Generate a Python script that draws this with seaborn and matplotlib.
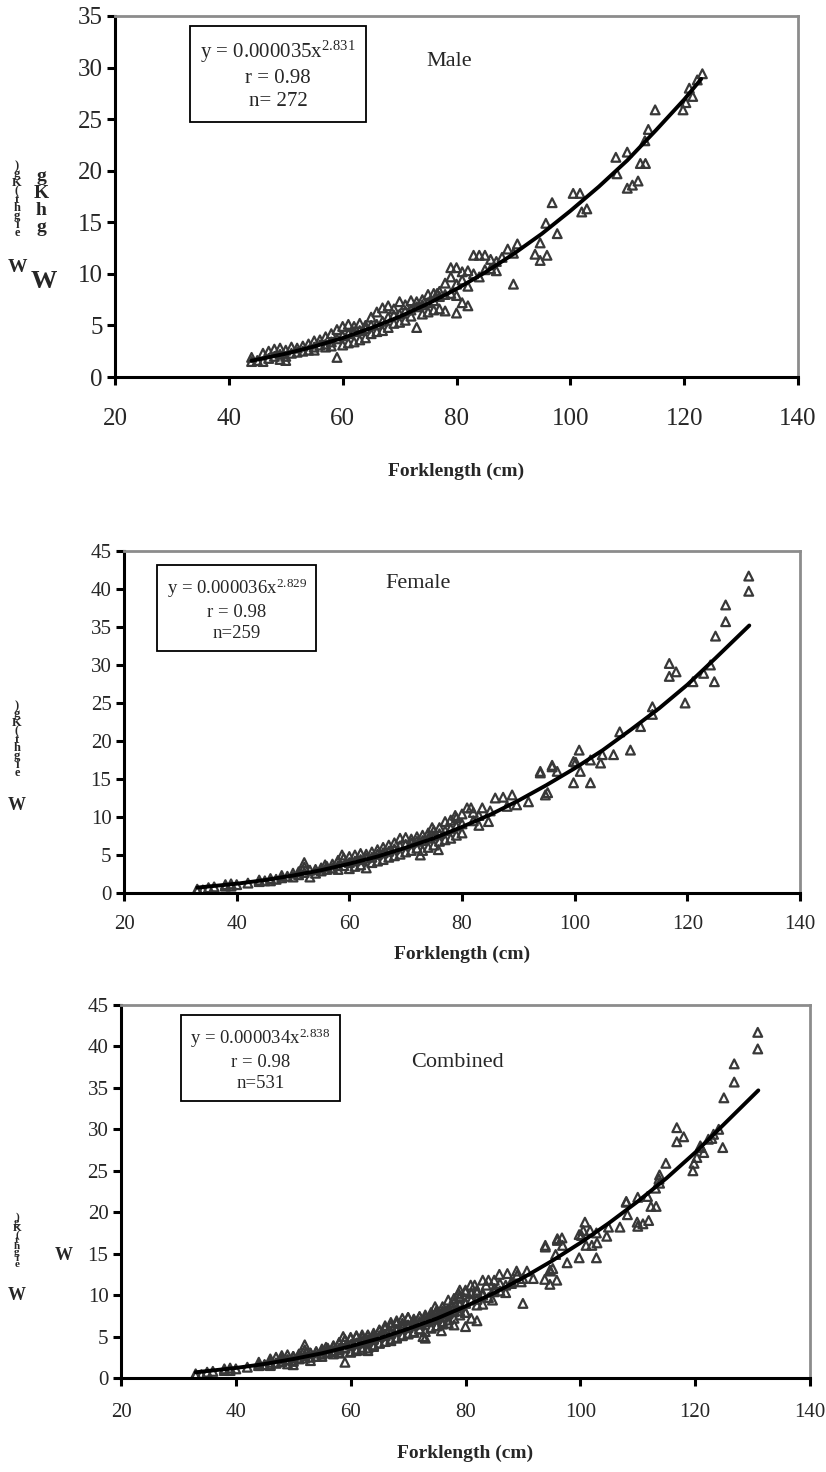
import matplotlib
matplotlib.use("Agg")
import matplotlib.pyplot as plt
import seaborn as sns
import pandas as pd

# %%
# Male: fork length (cm) and weight (kg)
male_fl = [44, 44, 45, 46, 46, 47, 47, 48, 48, 49, 49, 49, 50, 50, 50, 51, 51, 52, 52,
           53, 53, 54, 54, 55, 55, 55, 56, 56, 57, 57, 57, 58, 58, 58, 59, 59, 59,
           60, 60, 60, 61, 61, 61, 62, 62, 62, 63, 63, 63, 64, 64, 64, 65, 65, 65,
           66, 66, 66, 67, 67, 67, 68, 68, 68, 69, 69, 69, 70, 70, 70, 71, 71, 71,
           72, 72, 72, 73, 73, 73, 74, 74, 74, 75, 75, 75, 76, 76, 76, 76.6, 77, 77, 77,
           78, 78, 78, 79, 79, 79, 80, 80, 80, 80, 81, 81, 81, 82, 82, 82, 83, 83,
           84, 84, 85, 85, 86, 86, 87, 87, 88, 89, 90, 90, 90.7, 93.8, 94.7, 94.7,
           95.7, 95.9, 96.8, 97.7, 100.5, 101.7, 102, 102.9, 108, 108.2, 110, 110,
           110.9, 111.9, 112.3, 113.2, 113.1, 113.7, 114.9, 119.8, 120.3, 120.9,
           121.5, 122.3, 123.2]
male_wt = [1.9, 1.5, 1.6, 2.3, 1.5, 2.5, 1.8, 2.7, 2.0, 2.8, 2.2, 1.7, 2.6, 2.0, 1.6, 2.9, 2.3, 2.8, 2.4,
           3.0, 2.5, 3.2, 2.6, 3.5, 2.9, 2.6, 3.6, 3.1, 3.9, 3.2, 2.9, 4.2, 3.4, 3.0, 4.6, 3.7, 1.9,
           4.9, 4.0, 3.1, 5.1, 4.2, 3.3, 4.9, 4.4, 3.4, 5.2, 4.5, 3.6, 5.0, 4.7, 3.8, 5.8, 5.0, 4.2,
           6.3, 5.1, 4.4, 6.7, 5.4, 4.5, 6.9, 5.8, 4.8, 6.6, 6.0, 5.2, 7.3, 6.1, 5.3, 7.0, 6.4, 5.5,
           7.4, 6.5, 5.9, 7.3, 6.8, 4.8, 7.5, 7.0, 6.1, 8.0, 7.2, 6.3, 8.1, 7.4, 6.5, 8.1, 8.3, 7.8, 6.6,
           9.1, 8.0, 6.4, 10.6, 9.7, 8.1, 10.6, 9.0, 7.9, 6.2, 9.4, 7.2, 10.2, 10.3, 8.8, 6.9, 11.8, 10.0,
           11.8, 9.7, 11.8, 10.4, 11.4, 10.5, 10.3, 11.2, 11.6, 12.4, 9.0, 12.0, 12.9, 11.9, 13.0, 11.3,
           14.9, 11.8, 16.9, 13.9, 17.8, 17.8, 16.0, 16.3, 21.3, 19.7, 21.8, 18.3,
           18.6, 19.0, 20.7, 20.7, 22.9, 24.0, 25.9, 25.9, 26.6, 28.0,
           27.2, 28.8, 29.4]

# Female: fork length (cm) and weight (kg)
female_fl = [33, 33, 34, 35, 36, 38, 38, 39, 39, 40, 42, 44, 44, 45, 46, 46, 47, 48, 48, 49,
             50, 50, 51, 51, 52, 52, 52, 53, 53, 54, 54, 55, 55, 55.7, 56, 56, 57, 57,
             58, 58, 58, 58.7, 59, 59, 60, 60, 60, 61, 61, 61, 62, 62, 62, 63, 63, 63,
             64, 64, 64, 65, 65, 65, 66, 66, 66, 67, 67, 67, 68, 68, 68, 69, 69, 69,
             70, 70, 70, 71, 71, 71, 72, 72, 72, 72.6, 73, 73, 73, 74, 74, 74, 74.7,
             75, 75, 75, 75.8, 76, 76, 76, 77, 77, 77, 78, 78, 78, 78.8, 79, 79, 79,
             80, 80, 80, 80.9, 81.6, 82, 82, 83, 83, 83.6, 84.7, 85, 85.9, 87.3, 88,
             88.9, 89.7, 91.8, 93.9, 93.9, 94.8, 95.2, 96, 96, 96.9, 99.8, 99.8, 100.2,
             100.8, 101, 102.8, 102.8, 104.6, 104.9, 106.9, 108, 109.9, 111.7, 113.8,
             113.8, 116.8, 116.8, 118, 119.6, 121, 122.9, 124.1, 124.8, 125, 126.8,
             126.8, 130.9, 130.9]
female_wt = [0.5, 0.3, 0.4, 0.7, 0.8, 1.1, 0.9, 1.2, 0.9, 1.1, 1.3, 1.5, 1.7, 1.6, 1.9, 1.6, 1.8, 2.3, 2.0, 2.2,
             2.1, 2.6, 2.4, 2.8, 4.0, 3.4, 2.7, 2.1, 3.0, 3.1, 2.6, 3.3, 2.9, 3.7, 3.5, 3.1, 3.8, 3.3,
             4.3, 3.6, 3.1, 5.0, 4.6, 3.6, 4.8, 4.0, 3.2, 5.0, 4.2, 3.5, 5.2, 4.4, 3.7, 5.1, 4.6, 3.3,
             5.4, 4.7, 4.0, 5.7, 5.1, 4.2, 6.0, 5.3, 4.4, 6.3, 5.5, 4.7, 6.6, 5.8, 4.9, 7.2, 6.2, 5.1,
             7.3, 6.4, 5.4, 7.1, 6.6, 5.6, 7.4, 6.8, 5.9, 5.0, 7.6, 6.9, 5.6, 7.9, 7.2, 6.0, 8.6,
             8.2, 7.5, 6.3, 5.7, 8.6, 7.8, 6.8, 9.4, 8.2, 7.0, 9.6, 8.5, 7.2, 10.2, 9.9, 8.8, 7.6,
             10.4, 9.1, 7.9, 11.2, 11.2, 10.6, 9.5, 8.9, 10.2, 11.2, 9.4, 10.8, 12.5, 12.6, 11.4,
             12.9, 11.6, 12.0, 16.0, 15.8, 12.9, 13.2, 16.6, 16.8, 16.0, 14.5, 17.3, 17.2,
             18.8, 16.0, 17.5, 14.5, 17.1, 18.2, 18.2, 21.2, 18.8, 21.9, 24.5,
             23.5, 30.2, 28.5, 29.1, 25.0, 27.8, 28.9, 30.0, 27.8, 33.8, 37.9,
             35.7, 41.7, 39.7]

# Power-curve trend lines
male_fit_fl = [44, 50, 55, 60, 65, 70, 75, 80, 85, 90, 95, 100, 105, 110, 115, 120, 123]
male_fit_wt = [1.58, 2.26, 2.96, 3.78, 4.75, 5.85, 7.11, 8.53, 10.13, 11.92, 13.89, 16.1,
               18.45, 21.0, 23.9, 26.9, 28.9]
female_fit_fl = [33, 40, 45, 50, 55, 60, 65, 70, 75, 80, 85, 90, 95, 100, 105, 110, 115,
                 120, 125, 131]
female_fit_wt = [0.71, 1.22, 1.70, 2.30, 3.0, 3.85, 4.8, 5.96, 7.2, 8.70, 10.3, 12.15, 14.2,
                 16.4, 18.8, 21.5, 24.3, 27.4, 30.9, 35.2]
comb_fit_fl = [33, 40, 45, 50, 55, 60, 65, 70, 75, 80, 85, 90, 95, 100, 105, 110, 115,
               120, 125, 131]
comb_fit_wt = [0.69, 1.21, 1.69, 2.29, 2.98, 3.83, 4.78, 5.93, 7.17, 8.65, 10.25, 12.08, 14.1,
               16.3, 18.7, 21.3, 24.1, 27.2, 30.6, 34.7]

# Fit labels
titles = ["Male", "Female", "Combined"]
equations = ["y = 0.000035x$^{2.831}$\nr = 0.98\nn= 272",
             "y = 0.000036x$^{2.829}$\nr = 0.98\nn=259",
             "y = 0.000034x$^{2.838}$\nr = 0.98\nn=531"]
x_ticks = [20, 40, 60, 80, 100, 120, 140]

# %%
sns.set_style("ticks")
plt.rcParams["font.family"] = ["Liberation Serif", "DejaVu Serif"]
plt.rcParams["mathtext.fontset"] = "custom"
plt.rcParams["mathtext.rm"] = "Liberation Serif"
plt.rcParams["mathtext.it"] = "Liberation Serif:italic"

W, H = 826, 1472
fig = plt.figure(figsize=(W / 100, H / 100), dpi=100)


def px_axes(left, top, right, bottom):
    return fig.add_axes([left / W, 1 - bottom / H, (right - left) / W, (bottom - top) / H])


def draw_panel(ax, fl, wt, fit_fl, fit_wt, ymax, tick_fs, eq, eq_pos, eq_fs,
               title, title_pos, xpad, xlabel_pad):
    pts = pd.DataFrame({"fl": fl, "wt": wt})
    fit = pd.DataFrame({"fl": fit_fl, "wt": fit_wt})
    sns.scatterplot(data=pts, x="fl", y="wt", marker="^", s=40, facecolor="none",
                    edgecolor="#383838", linewidth=1.6, ax=ax, zorder=2)
    sns.lineplot(data=fit, x="fl", y="wt", color="black", lw=2.8, ax=ax, zorder=3)

    ax.set_xlim(20, 140)
    ax.set_ylim(0, ymax)
    ax.set_xticks(x_ticks)
    ax.set_yticks(range(0, ymax + 1, 5))
    ax.tick_params(axis="both", direction="out", length=6, width=2.2, color="black",
                   labelsize=tick_fs)
    ax.tick_params(axis="x", pad=xpad)
    ax.tick_params(axis="y", pad=3)
    for side in ["left", "bottom"]:
        ax.spines[side].set_color("black")
        ax.spines[side].set_linewidth(2.2)
    for side in ["top", "right"]:
        ax.spines[side].set_color("#8c8c8c")
        ax.spines[side].set_linewidth(2.0)

    ax.set_xlabel("Forklength (cm)", fontsize=14, fontweight="bold", labelpad=xlabel_pad)
    ax.set_ylabel("")

    ax.text(eq_pos[0], eq_pos[1], eq, transform=ax.transAxes, ha="center", va="center",
            multialignment="center", fontsize=eq_fs, linespacing=1.3,
            bbox=dict(boxstyle="square,pad=0.5", fc="white", ec="black", lw=1.3))
    ax.text(title_pos[0], title_pos[1], title, transform=ax.transAxes, ha="center",
            va="center", fontsize=16)


ax1 = px_axes(115, 16, 798, 377)
draw_panel(ax1, male_fl, male_wt, male_fit_fl, male_fit_wt, 35, 18, equations[0],
           (0.239, 0.837), 15, titles[0], (0.489, 0.875), 16, 24)

ax2 = px_axes(124, 551, 800, 893)
draw_panel(ax2, female_fl, female_wt, female_fit_fl, female_fit_wt, 45, 15, equations[1],
           (0.167, 0.830), 13.5, titles[1], (0.435, 0.906), 10, 8)

ax3 = px_axes(121, 1005, 810, 1378)
draw_panel(ax3, male_fl + female_fl, male_wt + female_wt, comb_fit_fl, comb_fit_wt, 45, 15,
           equations[2], (0.202, 0.855), 13.5, titles[2], (0.488, 0.845), 12, 16)

# Garbled y-axis labels ("Weight (Kg)") as they appear in the original
stack = ")\ng\nK\n(\nt\nh\ng\ni\ne"
fig.text(17 / W, 1 - 160 / H, stack, ha="center", va="top", fontsize=9,
         fontweight="bold", linespacing=0.6)
fig.text(17 / W, 1 - 267 / H, "W", ha="center", va="center", fontsize=14, fontweight="bold")
fig.text(41 / W, 1 - 168 / H, "g\nK\nh\ng", ha="center", va="top", fontsize=14,
         fontweight="bold", linespacing=1.0)
fig.text(44 / W, 1 - 281 / H, "W", ha="center", va="center", fontsize=19, fontweight="bold")

fig.text(17 / W, 1 - 700 / H, stack, ha="center", va="top", fontsize=9,
         fontweight="bold", linespacing=0.6)
fig.text(17 / W, 1 - 805 / H, "W", ha="center", va="center", fontsize=13, fontweight="bold")

fig.text(17 / W, 1 - 1212 / H, stack, ha="center", va="top", fontsize=8,
         fontweight="bold", linespacing=0.55)
fig.text(17 / W, 1 - 1296 / H, "W", ha="center", va="center", fontsize=13, fontweight="bold")
fig.text(64 / W, 1 - 1256 / H, "W", ha="center", va="center", fontsize=13, fontweight="bold")

fig.savefig("out.png", dpi=100)
